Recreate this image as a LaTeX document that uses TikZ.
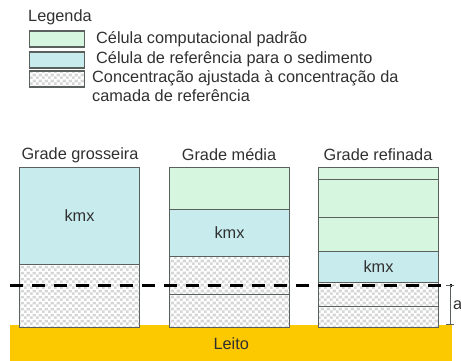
\documentclass[tikz,border=0pt]{standalone}
\usepackage{fontspec}
\setmainfont{Liberation Sans}
\usetikzlibrary{patterns.meta}
\definecolor{cgreen}{HTML}{D6F6DF}
\definecolor{cblue}{HTML}{C8EBEE}
\definecolor{cleito}{HTML}{FCC800}
\definecolor{cborder}{HTML}{5A605C}
\definecolor{ctext}{HTML}{303030}
\tikzdeclarepattern{name=checker, type=colored, bottom left={(0pt,0pt)}, top right={(6pt,6pt)}, tile size={(6pt,6pt)},
  code={\fill[gray!32] (0pt,0pt) rectangle (3pt,3pt); \fill[gray!32] (3pt,3pt) rectangle (6pt,6pt);}}
\begin{document}
\begin{tikzpicture}[x=1pt,y=-1pt,
  every node/.style={text=ctext, font=\fontsize{16.3}{19}\selectfont},
  cell/.style={draw=cborder, line width=1pt, inner sep=0pt, anchor=north west, minimum width=120pt},
  green/.style={cell, fill=cgreen},
  blue/.style={cell, fill=cblue},
  hatch/.style={cell, preaction={fill=white}, pattern=checker},
  swatch/.style={draw=cborder, line width=1.6pt, inner sep=0pt, minimum width=55pt, minimum height=16pt},
  title/.style={inner sep=0pt},
  dashline/.style={line width=3pt, dash pattern=on 13pt off 9pt},
]
\useasboundingbox (0,0) rectangle (461,360);
% legend
\node[title, anchor=west] (leg) at (28,17) {Legenda};
\node[swatch, fill=cgreen] (s1) at (57,39) {};
\node[swatch, fill=cblue] (s2) at (57,60) {};
\node[swatch, preaction={fill=white}, pattern=checker] (s3) at (57,79) {};
\node[title, anchor=west] (t1) at (96,39) {Célula computacional padrão};
\node[title, anchor=west] (t2) at (96,59) {Célula de referência para o sedimento};
\node[title, anchor=north west, align=left] (t3) at (92,70) {Concentração ajustada à concentração da\\camada de referência};
% titles
\node[title] (g1) at (80,155) {Grade grosseira};
\node[title] (g2) at (229,155) {Grade média};
\node[title] (g3) at (378,155) {Grade refinada};
% bed
\node[fill=cleito, inner sep=0pt, minimum width=442pt, minimum height=36pt, anchor=north west] (leito) at (10,325) {Leito};
% coarse
\node[blue, minimum height=97pt] (c1) at (19,167) {kmx};
\node[hatch, minimum height=63pt] (c2) at (19,264) {};
% medium
\node[green, minimum height=42pt] (m1) at (169,167) {};
\node[blue, minimum height=47pt] (m2) at (169,209) {kmx};
\node[hatch, minimum height=38pt] (m3) at (169,256) {};
\node[hatch, minimum height=33pt] (m4) at (169,294) {};
% fine
\node[green, minimum height=12pt] (f1) at (318,167) {};
\node[green, minimum height=38pt] (f2) at (318,179) {};
\node[green, minimum height=34pt] (f3) at (318,217) {};
\node[blue, minimum height=31pt] (f4) at (318,251) {kmx};
\node[hatch, minimum height=24pt] (f5) at (318,282) {};
\node[hatch, minimum height=21pt] (f6) at (318,306) {};
% reference level
\coordinate (dl) at (10,285);
\coordinate (dr) at (452,285);
\coordinate (dt) at (450,285);
\coordinate (db) at (450,325);
\draw[dashline] (dl) -- (dr);
\draw[line width=0.8pt, cborder, |-|] (dt) -- (db);
\node[title, anchor=west] (a) at (453,305) {a};
\end{tikzpicture}
\end{document}
